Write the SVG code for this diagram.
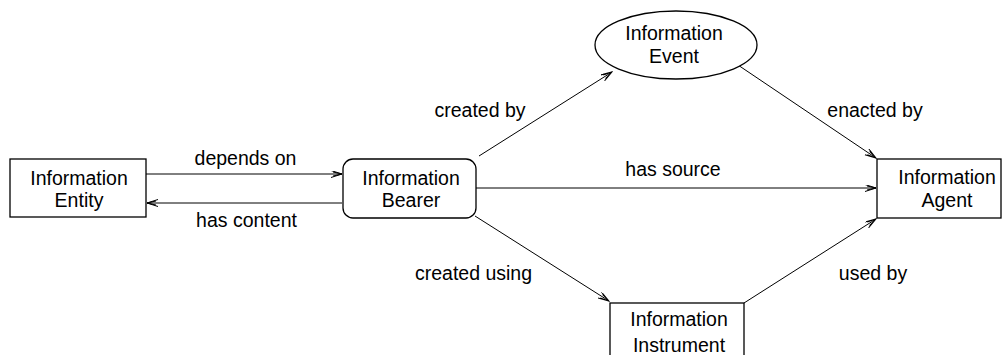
<svg xmlns="http://www.w3.org/2000/svg" width="1003" height="355" viewBox="0 0 1003 355">
<style>
.n{fill:#fff;stroke:#000;stroke-width:1.3}
.t{font-family:"Liberation Sans",Arial,sans-serif;font-size:19.5px;fill:#000;text-anchor:middle}
.c{stroke:#000;stroke-width:1;fill:none;marker-end:url(#a)}
</style>
<defs>
<marker id="a" markerUnits="userSpaceOnUse" markerWidth="12" markerHeight="8" refX="11" refY="3.5" orient="auto">
<path d="M0,0 L11,3.5 L0,7 M2,1.5 L11,3.5 L2,5.5" fill="none" stroke="#000" stroke-width="1"/>
</marker>
</defs>
<rect width="1003" height="355" fill="#fff"/>
<g id="connectors">
<line class="c" x1="146" y1="174" x2="342" y2="174"/>
<line class="c" x1="342" y1="203" x2="147" y2="203"/>
<line class="c" x1="479" y1="156" x2="612" y2="72"/>
<line class="c" x1="735" y1="63" x2="876" y2="158"/>
<line class="c" x1="476" y1="188" x2="876" y2="188"/>
<line class="c" x1="475" y1="216" x2="609" y2="301"/>
<line class="c" x1="744" y1="303" x2="876" y2="219"/>
<text class="t" x="245.5" y="165">depends on</text>
<text class="t" x="246.5" y="227">has content</text>
<text class="t" x="480" y="117">created by</text>
<text class="t" x="875" y="117">enacted by</text>
<text class="t" x="673" y="176">has source</text>
<text class="t" x="473.5" y="280">created using</text>
<text class="t" x="873" y="280">used by</text>
</g>
<g id="entity">
<rect class="n" x="10" y="159" width="136" height="58"/>
<text class="t" x="79" y="185">Information</text>
<text class="t" x="79" y="207">Entity</text>
</g>
<g id="bearer">
<rect class="n" x="343" y="159" width="133" height="59" rx="10" ry="10"/>
<text class="t" x="411" y="185">Information</text>
<text class="t" x="411" y="207">Bearer</text>
</g>
<g id="event">
<ellipse class="n" cx="676" cy="45" rx="81" ry="34"/>
<text class="t" x="674" y="40">Information</text>
<text class="t" x="674" y="63">Event</text>
</g>
<g id="agent">
<rect class="n" x="877" y="159" width="124" height="59"/>
<text class="t" x="947" y="184">Information</text>
<text class="t" x="947" y="207">Agent</text>
</g>
<g id="instrument">
<rect class="n" x="610" y="303" width="134" height="60"/>
<text class="t" x="679" y="326">Information</text>
<text class="t" x="679" y="352">Instrument</text>
</g>
</svg>
